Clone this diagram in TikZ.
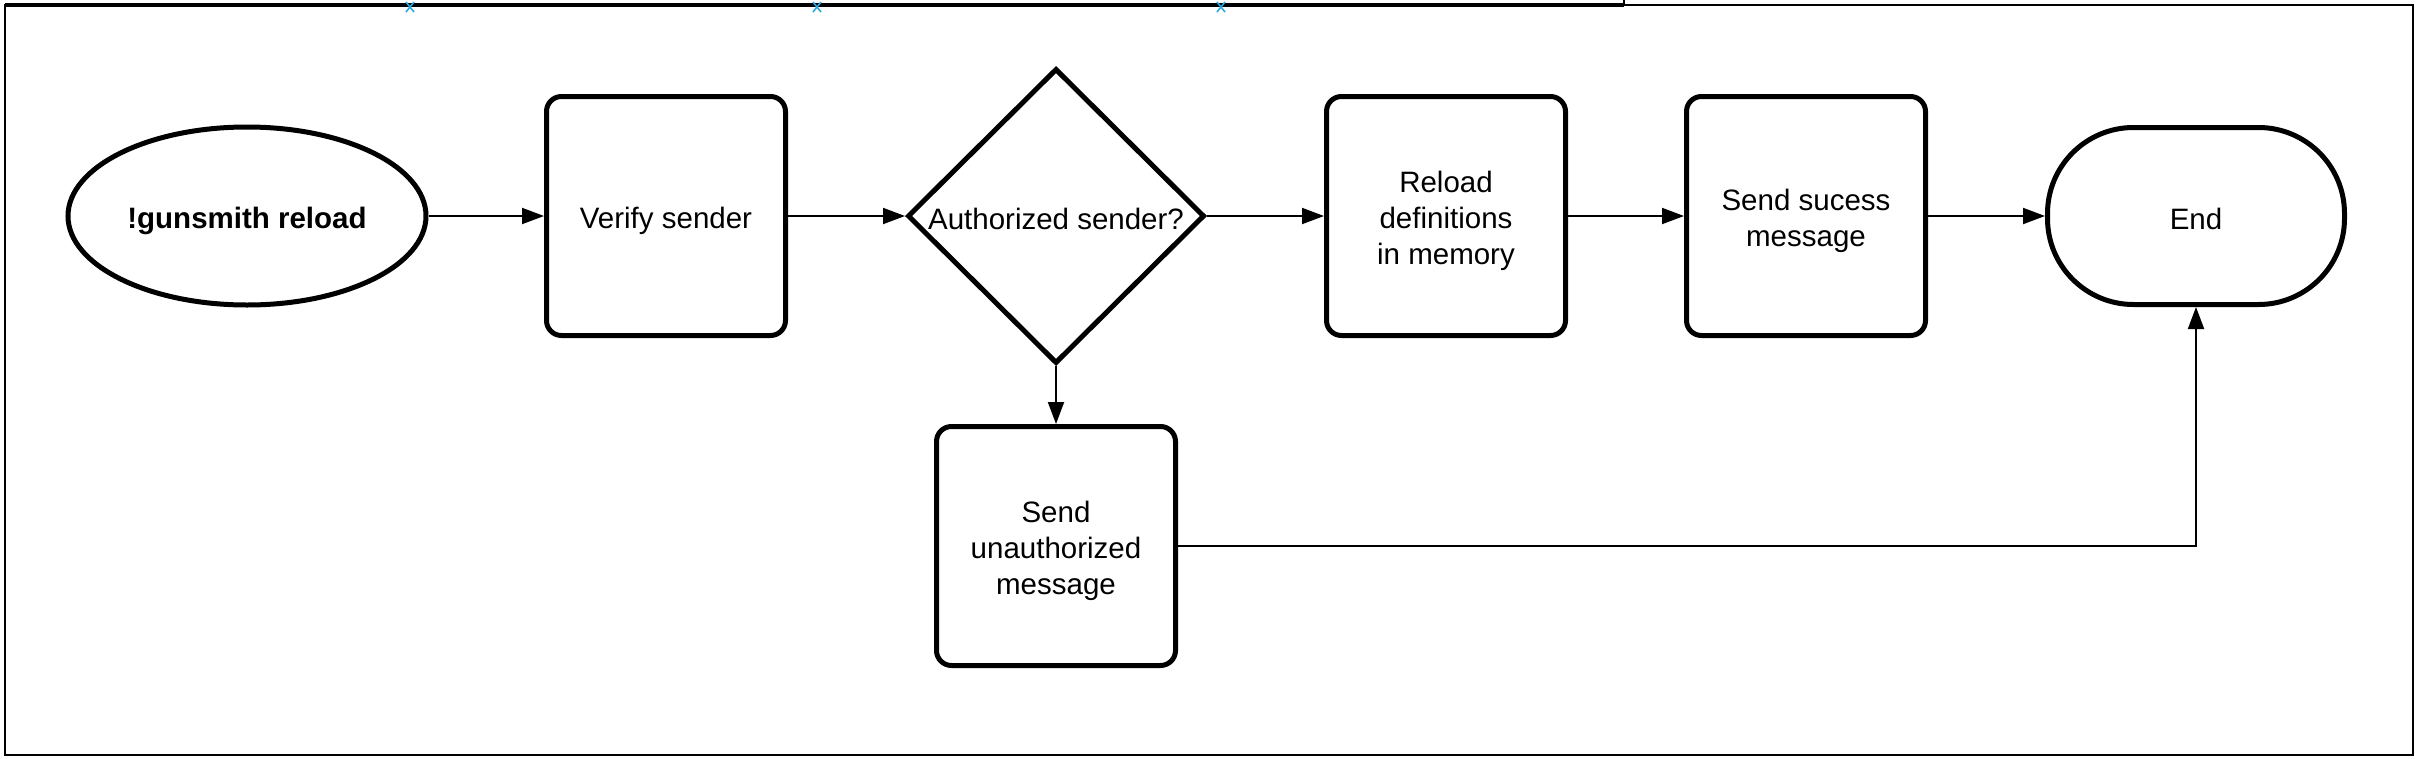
\documentclass[tikz,border=0pt]{standalone}
\usepackage{fontspec}
\setmainfont{Liberation Sans}
\usetikzlibrary{shapes.geometric,arrows.meta}
\definecolor{markblue}{RGB}{41,168,224}
\newcommand{\dstrut}{\rule[-5pt]{0pt}{36pt}}
\begin{document}
\begin{tikzpicture}[x=1pt,y=-1pt,
  every node/.style={font=\fontsize{29.5}{36}\selectfont, inner sep=0pt, align=center},
  shapeline/.style={draw, line width=5pt, fill=white},
  procbox/.style={shapeline, rectangle, rounded corners=15pt, minimum width=239pt, minimum height=239pt},
  startnode/.style={shapeline, ellipse, minimum width=358pt, minimum height=178pt, font=\fontsize{29.5}{36}\selectfont\bfseries},
  decision/.style={shapeline, diamond, minimum width=297pt, minimum height=295pt},
  terminal/.style={shapeline, rectangle, rounded corners=86pt, minimum width=297pt, minimum height=177pt},
  conn/.style={line width=2pt, -{Triangle[length=22pt,width=16pt]}},
  framel/.style={line width=2.5pt},
  xmark/.style={draw=markblue, line width=1.6pt}
]
\useasboundingbox (0,0) rectangle (2418,758);
% frame
\draw[framel] (5,5) rectangle (2413,755);
\draw[line width=4pt] (5,5) -- (1624,5);
\draw[line width=2pt] (1624,0) -- (1624,5);
% blue waypoint marks
\foreach \mx in {410,817,1221}{
  \draw[xmark] (\mx-4,2) -- (\mx+4,12) (\mx+4,2) -- (\mx-4,12);
}
% nodes
\node[startnode] (start) at (247,216) {\dstrut !gunsmith reload};
\node[procbox] (verify) at (666,216) {\dstrut Verify sender};
\node[decision] (auth) at (1056,216) {\makebox[0pt]{\dstrut Authorized sender?}};
\node[procbox] (reload) at (1446,216) {\dstrut Reload\\\dstrut definitions\\\dstrut in memory};
\node[procbox] (success) at (1806,216) {\dstrut Send sucess\\\dstrut message};
\node[terminal] (end) at (2196,216) {\dstrut End};
\node[procbox] (unauth) at (1056,546) {\dstrut Send\\\dstrut unauthorized\\\dstrut message};
% connectors
\draw[conn] (start.east) -- (verify.west);
\draw[conn] (verify.east) -- (auth.west);
\draw[conn] (auth.east) -- (reload.west);
\draw[conn] (reload.east) -- (success.west);
\draw[conn] (success.east) -- (end.west);
\draw[conn] (auth.south) -- (unauth.north);
\draw[conn] (unauth.east) -| (end.south);
\end{tikzpicture}
\end{document}
